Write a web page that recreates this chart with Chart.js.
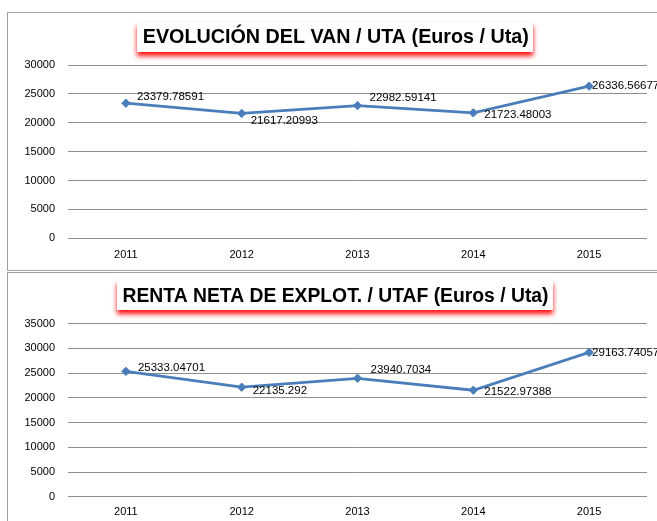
<!DOCTYPE html>
<html><head><meta charset="utf-8">
<script src="https://cdn.jsdelivr.net/npm/chart.js@4.4.1/dist/chart.umd.min.js"></script>
<style>
html,body{margin:0;padding:0;background:#fff;width:657px;height:521px;overflow:hidden;position:relative}
.frame{position:absolute;border:1px solid #a0a0a0;box-sizing:border-box}
canvas{position:absolute;left:0}
</style></head><body>
<div class="frame" style="left:7px;top:12px;width:680px;height:259px"></div>
<div class="frame" style="left:7px;top:272px;width:680px;height:300px"></div>
<canvas id="c1" width="657" height="270" style="top:0px"></canvas>
<canvas id="c2" width="657" height="250" style="top:271px"></canvas>
<script>
// ---- data ----
const years = ['2011', '2012', '2013', '2014', '2015'];
const vanUta = [23379.78591, 21617.20993, 22982.59141, 21723.48003, 26336.56677];
const rentaUtaf = [25333.04701, 22135.292, 23940.7034, 21522.97388, 29163.74057];
const vanTitle = 'EVOLUCIÓN DEL VAN / UTA (Euros / Uta)';
const rentaTitle = 'RENTA NETA DE EXPLOT. / UTAF (Euros / Uta)';
const vanMax = 30000;
const rentaMax = 35000;
const tickStep = 5000;

const FONT = '"Liberation Sans", Arial, sans-serif';
const BLUE = '#4A7EBB';

const pointLabels = {
  id: 'pointLabels',
  afterDatasetsDraw(chart, args, o) {
    const ctx = chart.ctx;
    const meta = chart.getDatasetMeta(0);
    const data = chart.data.datasets[0].data;
    ctx.save();
    ctx.font = '11.5px ' + FONT;
    ctx.fillStyle = '#000';
    ctx.textBaseline = 'middle';
    ctx.textAlign = 'left';
    meta.data.forEach((pt, i) => {
      ctx.fillText(String(data[i]), pt.x + o.dx[i], pt.y + o.dy[i]);
    });
    ctx.restore();
  }
};

const boxTitle = {
  id: 'boxTitle',
  beforeDraw(chart, args, o) {
    const ctx = chart.ctx;
    ctx.save();
    ctx.shadowColor = 'rgba(255,0,0,0.95)';
    ctx.shadowBlur = 5;
    ctx.shadowOffsetX = 0;
    ctx.shadowOffsetY = 4;
    ctx.fillStyle = '#fff';
    ctx.fillRect(o.box[0], o.box[1], o.box[2], o.box[3]);
    ctx.restore();
    ctx.save();
    ctx.font = 'bold 20px ' + FONT;
    ctx.fillStyle = '#000';
    ctx.textBaseline = 'middle';
    ctx.textAlign = 'center';
    const w = ctx.measureText(o.text).width;
    const sx = Math.min(1, o.textWidth / w);
    ctx.translate(o.cx, o.cy);
    ctx.scale(sx, 1);
    ctx.fillText(o.text, 0, 0);
    ctx.restore();
  }
};

function makeChart(id, values, max, title, geom) {
  return new Chart(document.getElementById(id), {
    type: 'line',
    data: {
      labels: years,
      datasets: [{
        data: values,
        borderColor: BLUE,
        backgroundColor: BLUE,
        borderWidth: 2.75,
        pointStyle: 'rectRot',
        pointRadius: 4.2,
        pointBorderWidth: 1,
        pointBackgroundColor: BLUE,
        pointBorderColor: BLUE,
        tension: 0,
        fill: false
      }]
    },
    options: {
      responsive: false,
      animation: false,
      devicePixelRatio: 1,
      layout: { padding: { top: geom.top, right: 10, bottom: 0, left: 0 } },
      plugins: {
        legend: { display: false },
        title: { display: false },
        tooltip: { enabled: false },
        boxTitle: { text: title, box: geom.box, cx: geom.cx, cy: geom.cy, textWidth: geom.tw },
        pointLabels: { dx: geom.dx, dy: geom.dy }
      },
      scales: {
        x: {
          offset: true,
          grid: { display: false, drawTicks: false },
          border: { display: false },
          ticks: { padding: geom.xpad, color: '#000', font: { family: FONT, size: 11 } },
          afterFit(s) { s.height = geom.xh; }
        },
        y: {
          min: 0, max: max,
          grid: { color: '#8e8e8e', lineWidth: 1, drawTicks: false },
          border: { display: false },
          ticks: {
            stepSize: tickStep, padding: 13, color: '#000',
            font: { family: FONT, size: 11 },
            callback: (v) => String(v)
          },
          afterFit(s) { s.width = 68; }
        }
      }
    },
    plugins: [boxTitle, pointLabels]
  });
}

makeChart('c1', vanUta, vanMax, vanTitle, {
  top: 65, xh: 31.7, xpad: 10,
  box: [137, 22, 396, 30], cx: 335.8, cy: 37.5, tw: 386,
  dx: [11, 9, 12, 11, 3], dy: [-6, 7, -8, 2, 0]
});
makeChart('c2', rentaUtaf, rentaMax, rentaTitle, {
  top: 52.5, xh: 24.2, xpad: 9,
  box: [117, 9, 436, 30], cx: 335.5, cy: 25, tw: 426,
  dx: [12, 11, 13, 11, 3], dy: [-4, 4, -8, 2, 0]
});
</script>
</body></html>
